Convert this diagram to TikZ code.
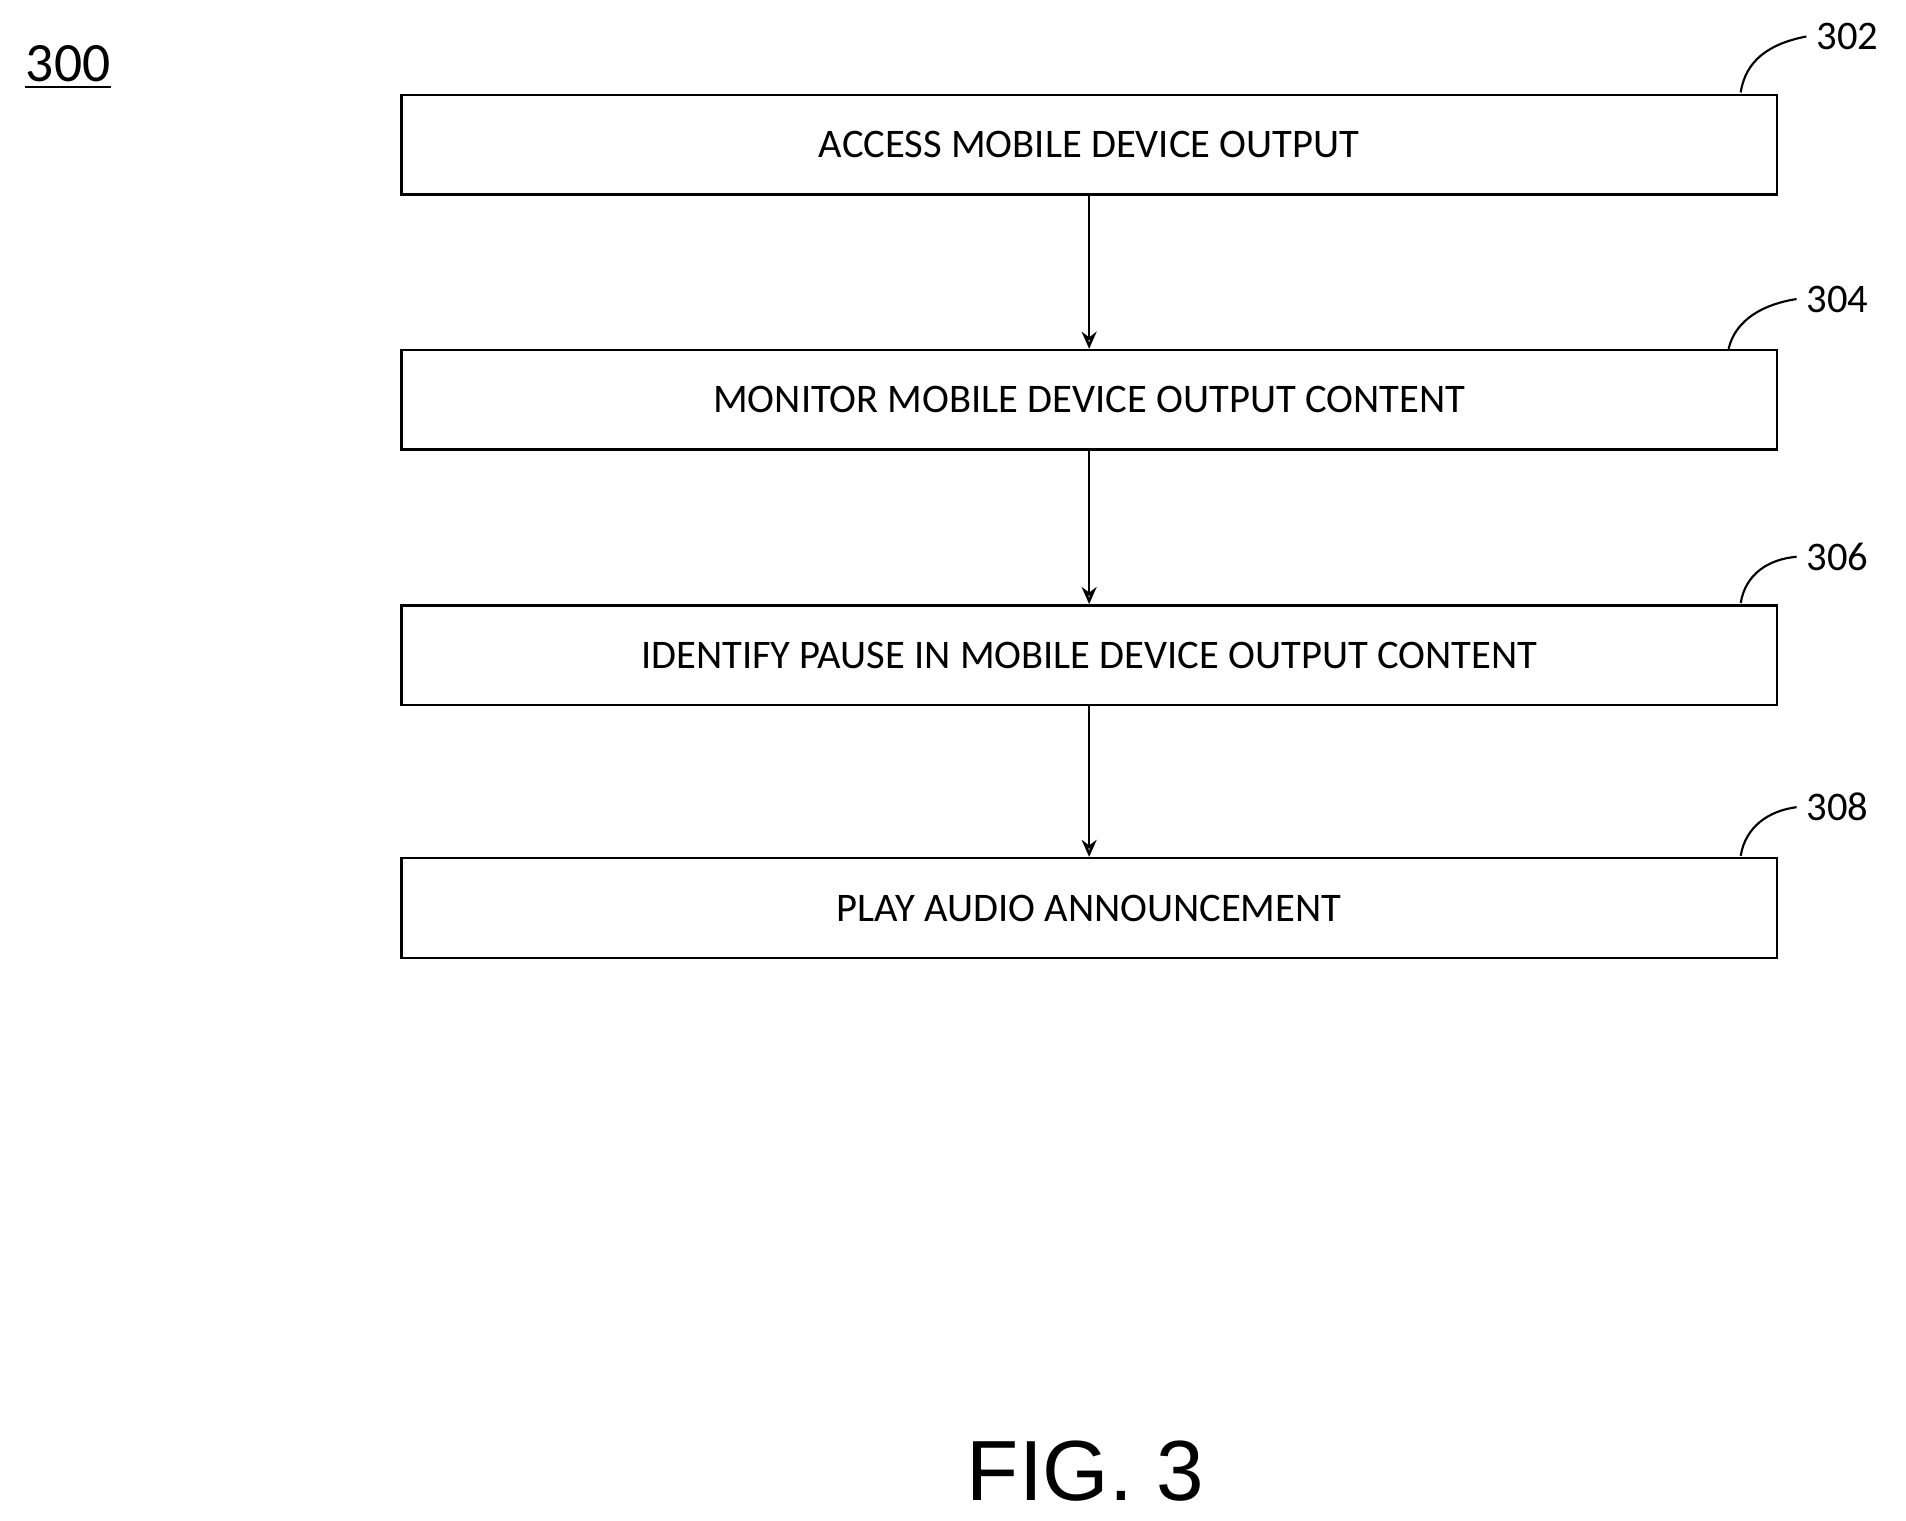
\documentclass[tikz,border=0pt]{standalone}
\usetikzlibrary{arrows.meta}
\usepackage{fontspec}
\setmainfont{Carlito}
\newfontfamily\figfont{Liberation Sans}
\begin{document}
\begin{tikzpicture}[x=0.02cm,y=-0.02cm,
  box/.style={draw,line width=1.2pt,minimum width=22.64cm,minimum height=1.64cm,font=\fontsize{19}{22}\selectfont,inner sep=0},
  arr/.style={line width=1.2pt,-{Stealth[length=8pt,width=7pt,open]}},
  lead/.style={line width=1pt},
  lab/.style={font=\fontsize{19}{22}\selectfont,anchor=west,inner sep=0}]
\useasboundingbox (0,0) rectangle (1568,1251);
\node[box] (b1) at (896,119) {ACCESS MOBILE DEVICE OUTPUT};
\node[box] (b2) at (896,329) {MONITOR MOBILE DEVICE OUTPUT CONTENT};
\node[box] (b3) at (896,539) {IDENTIFY PAUSE IN MOBILE DEVICE OUTPUT CONTENT};
\node[box] (b4) at (896,747) {PLAY AUDIO ANNOUNCEMENT};
\draw[arr] (b1) -- (b2);
\draw[arr] (b2) -- (b3);
\draw[arr] (b3) -- (b4);
\node[lab] (l1) at (1494,30) {302};
\node[lab] (l2) at (1486,246) {304};
\node[lab] (l3) at (1486,458) {306};
\node[lab] (l4) at (1486,664) {308};
\draw[lead] (1432,76) .. controls (1436,50) and (1455,36) .. ([xshift=-0.16cm]l1.west);
\draw[lead] (1422,287) .. controls (1428,262) and (1452,250) .. ([xshift=-0.16cm]l2.west);
\draw[lead] (1432,496) .. controls (1436,472) and (1455,460) .. ([xshift=-0.16cm]l3.west);
\draw[lead] (1432,704) .. controls (1436,680) and (1455,667) .. ([xshift=-0.16cm]l4.west);
\node[font=\fontsize{26}{30}\selectfont,inner sep=0] (n300) at (56,52) {300};
\draw[line width=1pt] ([yshift=-0.08cm]n300.south west) -- ([yshift=-0.08cm]n300.south east);
\node[font=\figfont\fontsize{40}{46}\selectfont,inner sep=0] (fig) at (893,1210) {FIG. 3};
\end{tikzpicture}
\end{document}
